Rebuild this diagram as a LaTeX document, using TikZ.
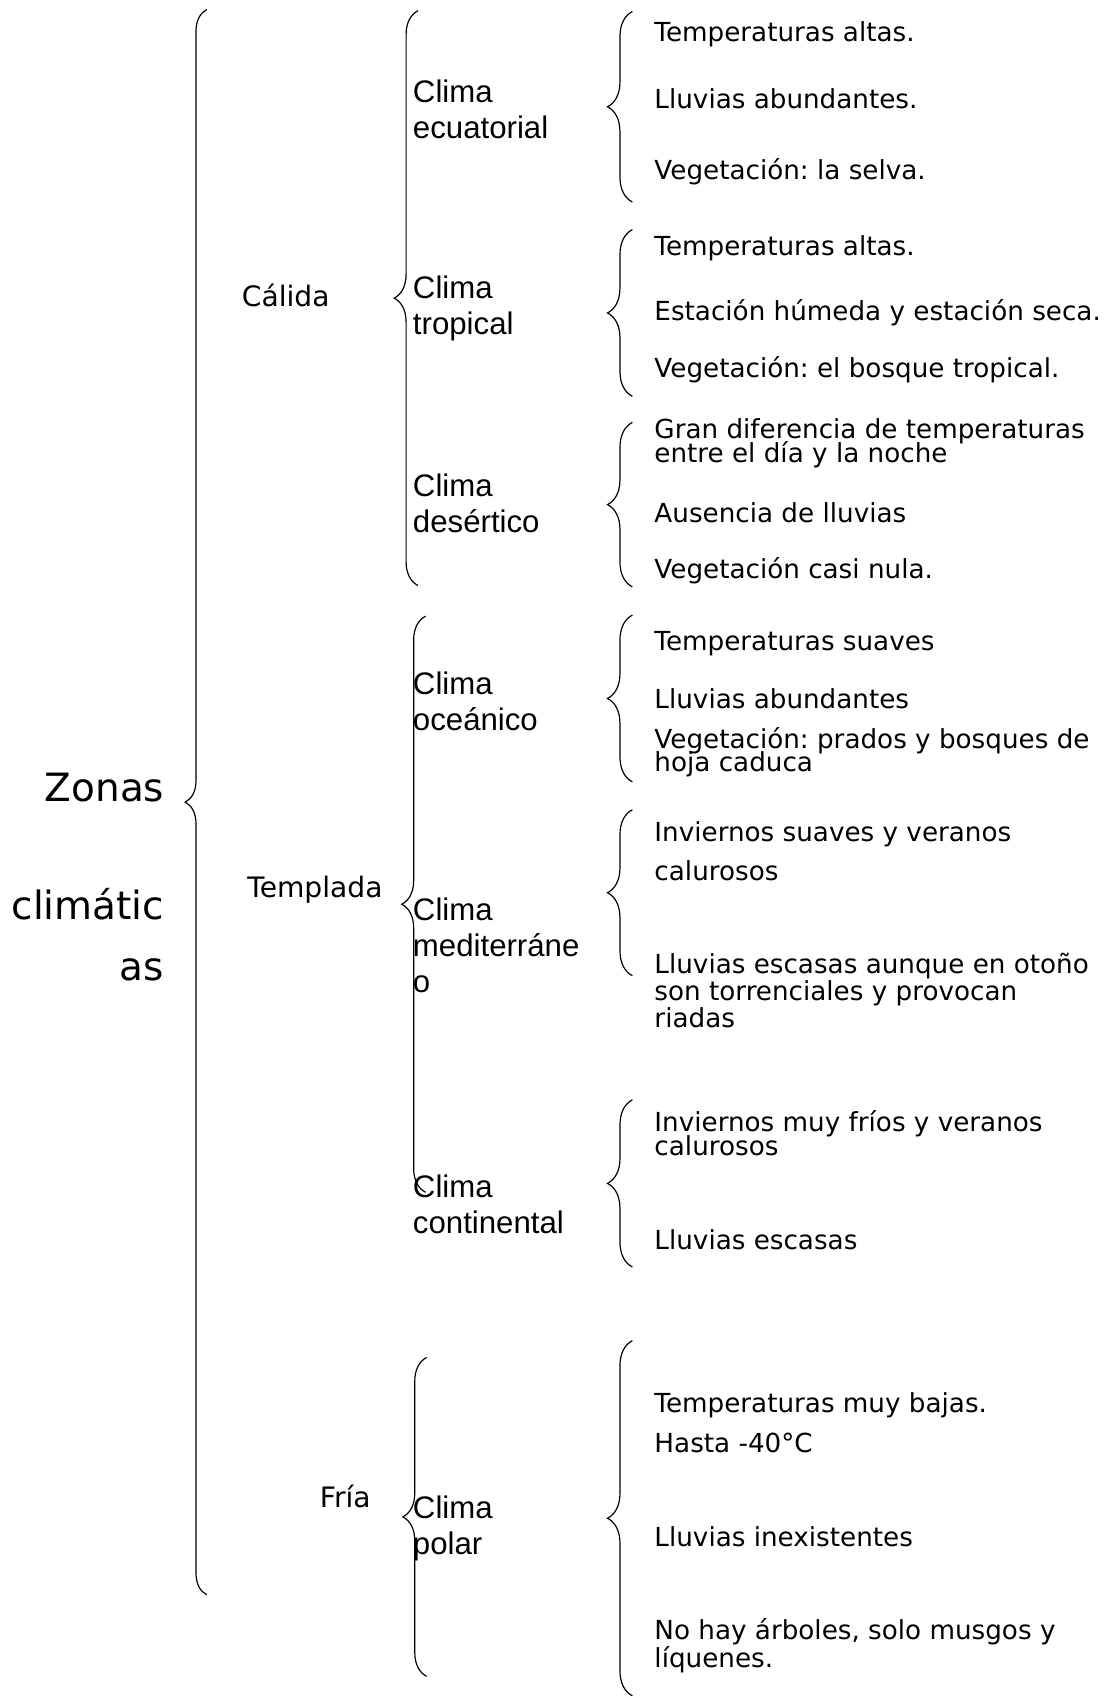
\documentclass[tikz,border=0pt]{standalone}
\usepackage{fontspec}
\setmainfont{DejaVu Sans}
\newfontfamily\arialfont{Liberation Sans}
\usetikzlibrary{decorations.pathreplacing}
\frenchspacing

\tikzset{every picture/.style={line width=0.75pt}}
\tikzset{
  zona/.style={inner sep=0pt, align=right, font=\fontsize{36}{55.5}\selectfont},
  tipo/.style={inner sep=0pt, anchor=base west, font=\fontsize{26}{30}\selectfont},
  clima/.style={inner sep=0pt, anchor=base west, align=left, font=\arialfont\fontsize{28.8}{33.2}\selectfont},
  rasgo/.style={inner sep=0pt, anchor=base west, align=left, font=\fontsize{24.2}{25}\selectfont},
  llave/.style={decorate, decoration={brace, amplitude=#1}, line width=1.1pt},
  llave/.default=22pt
}

\begin{document}
\begin{tikzpicture}[x=1pt,y=1pt,yscale=-1,xscale=1]
\useasboundingbox (0,0) rectangle (1026,1568);

% Text Node (base = last line)
\node (zonas) [zona, anchor=base east] at (152,905) {Zonas\\[54pt]climátic\\as};

% Text Node
\node (calida) [tipo] at (223,282.8) {Cálida};
\node (templada) [tipo] at (228,829) {Templada};
\node (fria) [tipo] at (295,1392) {Fría};

% Text Node
\node (ecuatorial) [clima] at (381,127.9) {Clima\\ecuatorial};
\node (tropical) [clima] at (381,308.9) {Clima\\tropical};
\node (desertico) [clima] at (381,492) {Clima\\desértico};
\node (oceanico) [clima] at (381,674.2) {Clima\\oceánico};
\node (mediterraneo) [clima] at (381,916.6) {Clima\\mediterráne\\o};
\node (continental) [clima] at (381,1138.9) {Clima\\continental};
\node (polar) [clima] at (381,1435.8) {Clima\\polar};

% Text Node
\node (ecu1) [rasgo] at (604,38.2) {Temperaturas altas.};
\node (ecu2) [rasgo] at (604,100) {Lluvias abundantes.};
\node (ecu3) [rasgo] at (604,166.1) {Vegetación: la selva.};
\node (tro1) [rasgo] at (604,236.1) {Temperaturas altas.};
\node (tro2) [rasgo] at (604,296.2) {Estación húmeda y estación seca.};
\node (tro3) [rasgo] at (604,348.2) {Vegetación: el bosque tropical.};
\node (des1) [rasgo] at (604,427.5) {Gran diferencia de temperaturas\\[-2.5pt]entre el día y la noche};
\node (des2) [rasgo] at (604,482.5) {Ausencia de lluvias};
\node (des3) [rasgo] at (604,534.4) {Vegetación casi nula.};
\node (oce1) [rasgo] at (604,601) {Temperaturas suaves};
\node (oce2) [rasgo] at (604,654) {Lluvias abundantes};
\node (oce3) [rasgo] at (604,712.7) {Vegetación: prados y bosques de\\[-3.5pt]hoja caduca};
\node (med1) [rasgo] at (604,813) {Inviernos suaves y veranos\\[11.3pt]calurosos};
\node (med2) [rasgo] at (604,949.2) {Lluvias escasas aunque en otoño\\son torrenciales y provocan\\riadas};
\node (con1) [rasgo] at (604,1067.1) {Inviernos muy fríos y veranos\\[-2.5pt]calurosos};
\node (con2) [rasgo] at (604,1153.4) {Lluvias escasas};
\node (pol1) [rasgo] at (604,1341.6) {Temperaturas muy bajas.\\[12.4pt]Hasta -40°C};
\node (pol2) [rasgo] at (604,1428.5) {Lluvias inexistentes};
\node (pol3) [rasgo] at (604,1539.9) {No hay árboles, solo musgos y\\[1pt]líquenes.};

% Brace: zonas
\coordinate (zonTop) at (191,8.8);
\coordinate (zonBot) at (191,1472.7);
\draw [llave=20pt] (zonBot) -- (zonTop);

% Brace: calida, templada, fria
\coordinate (calTop) at (386,9.9);
\coordinate (calBot) at (386,540.7);
\draw [llave] (calBot) -- (calTop);
\coordinate (temTop) at (393,569);
\coordinate (temBot) at (393,1101);
\draw [llave] (temBot) -- (temTop);
\coordinate (friTop) at (394,1253.5);
\coordinate (friBot) at (394,1548);
\draw [llave] (friBot) -- (friTop);

% Brace: climas
\coordinate (ecuTop) at (584,10.6);
\coordinate (ecuBot) at (584,186.6);
\draw [llave=23pt] (ecuBot) -- (ecuTop);
\coordinate (troTop) at (584,212);
\coordinate (troBot) at (584,366);
\draw [llave=23pt] (troBot) -- (troTop);
\coordinate (desTop) at (584,390);
\coordinate (desBot) at (584,542);
\draw [llave=23pt] (desBot) -- (desTop);
\coordinate (oceTop) at (584,568);
\coordinate (oceBot) at (584,722);
\draw [llave=23pt] (oceBot) -- (oceTop);
\coordinate (medTop) at (584,747.7);
\coordinate (medBot) at (584,901);
\draw [llave=23pt] (medBot) -- (medTop);
\coordinate (conTop) at (584,1015.6);
\coordinate (conBot) at (584,1170);
\draw [llave=23pt] (conBot) -- (conTop);
\coordinate (polTop) at (584,1238);
\coordinate (polBot) at (584,1566);
\draw [llave=23pt] (polBot) -- (polTop);

\end{tikzpicture}
\end{document}
